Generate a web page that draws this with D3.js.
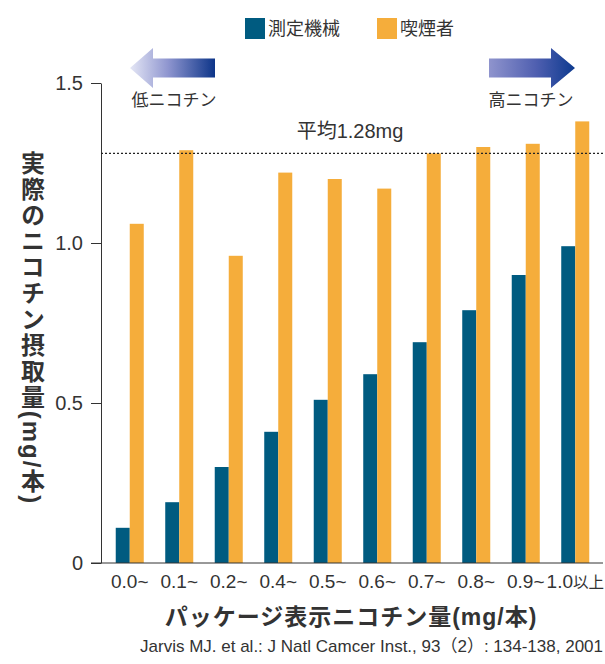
<!DOCTYPE html>
<html lang="ja">
<head>
<meta charset="utf-8">
<script src="https://cdn.jsdelivr.net/npm/d3@7"></script>
<style>
  html, body { margin: 0; padding: 0; background: #fff; }
  svg { display: block; }
  text { font-family: "Liberation Sans", Arial, "Noto Sans CJK JP", sans-serif; fill: #333; }
</style>
</head>
<body>
<svg id="chart" width="605" height="664"></svg>
<script>
// Nicotine labelled on the pack vs. nicotine actually taken in (mg per cigarette)
const categories = ["0.0~", "0.1~", "0.2~", "0.4~", "0.5~", "0.6~", "0.7~", "0.8~", "0.9~", "1.0以上"];
const series = ["測定機械", "喫煙者"];
const machineValues = [0.11, 0.19, 0.30, 0.41, 0.51, 0.59, 0.69, 0.79, 0.90, 0.99];
const smokerValues  = [1.06, 1.29, 0.96, 1.22, 1.20, 1.17, 1.28, 1.30, 1.31, 1.38];
const yTicks = [0, 0.5, 1.0, 1.5];
const averageValue = 1.28;
const averageLabel = "平均1.28mg";
const lowLabel = "低ニコチン";
const highLabel = "高ニコチン";
const yTitle = "実際のニコチン摂取量(mg/本)";
const xTitle = "パッケージ表示ニコチン量(mg/本)";
const source = "Jarvis MJ. et al.: J Natl Camcer Inst., 93（2）: 134-138, 2001";

const colors = { "測定機械": "#005b80", "喫煙者": "#f5ad3b" };
const ink = "#333";

const svg = d3.select("#chart");

const plot = { left: 101, right: 603, top: 83, bottom: 563 };

const y = d3.scaleLinear().domain([0, 1.5]).range([plot.bottom, plot.top]);
const x0 = d3.scaleBand().domain(categories).range([105, 600]).paddingInner(0.434).paddingOuter(0.217);
const x1 = d3.scaleBand().domain(series).range([0, x0.bandwidth()]);

const rows = categories.map((c, i) => ({ cat: c, values: [
  { key: series[0], value: machineValues[i] },
  { key: series[1], value: smokerValues[i] }
]}));

// bars
const groups = svg.append("g").selectAll("g").data(rows).join("g")
  .attr("transform", d => `translate(${x0(d.cat)},0)`);
groups.selectAll("rect").data(d => d.values).join("rect")
  .attr("x", d => x1(d.key))
  .attr("width", x1.bandwidth())
  .attr("y", d => y(d.value))
  .attr("height", d => y(0) - y(d.value))
  .attr("fill", d => colors[d.key]);

// y axis
const yAxis = svg.append("g").attr("transform", `translate(${plot.left},0)`)
  .call(d3.axisLeft(y).tickValues(yTicks).tickSize(10).tickSizeOuter(0).tickPadding(8)
    .tickFormat(d => d === 0 ? "0" : d3.format(".1f")(d)));
yAxis.selectAll("path, line").attr("stroke", ink);
yAxis.selectAll("text").attr("font-size", 20).attr("fill", "#3a3a3a")
  .style("font-family", "'Liberation Sans', Arial, sans-serif");

// x axis baseline
svg.append("line")
  .attr("x1", plot.left - 10).attr("x2", plot.right)
  .attr("y1", y(0)).attr("y2", y(0))
  .attr("stroke", ink);

const xAxis = svg.append("g").attr("transform", `translate(0,${y(0)})`)
  .call(d3.axisBottom(x0).tickSize(0).tickPadding(12));
xAxis.select(".domain").remove();
xAxis.selectAll("text").attr("font-size", 19).attr("fill", "#3a3a3a");
// the last category label: smaller kanji, kept inside the right edge
const lastCat = categories[categories.length - 1];
const lastText = xAxis.selectAll(".tick").filter(d => d === lastCat).select("text");
const m = lastCat.match(/^([0-9.]+)(.*)$/);
lastText.text(null)
  .attr("text-anchor", "end")
  .attr("x", 604 - (x0(lastCat) + x0.bandwidth() / 2));
lastText.append("tspan").text(m[1]);
lastText.append("tspan").attr("font-size", 15.5).text(m[2]);

// average line
svg.append("line")
  .attr("x1", plot.left).attr("x2", plot.right)
  .attr("y1", y(averageValue)).attr("y2", y(averageValue))
  .attr("stroke", "#222").attr("stroke-width", 1.1).attr("stroke-dasharray", "2,2");
svg.append("text")
  .attr("x", 350).attr("y", y(averageValue) - 15)
  .attr("text-anchor", "middle").attr("font-size", 20).attr("fill", "#333")
  .text(averageLabel);

// direction arrows
const defs = svg.append("defs");
function grad(id, stops) {
  const g = defs.append("linearGradient").attr("id", id)
    .attr("x1", "0%").attr("x2", "100%").attr("y1", "0%").attr("y2", "0%");
  stops.forEach(([o, c]) => g.append("stop").attr("offset", o).attr("stop-color", c));
}
grad("gLeft", [["0%", "#e4e6f5"], ["45%", "#8e95cf"], ["100%", "#0d3589"]]);
grad("gRight", [["0%", "#8f94cd"], ["55%", "#4f5fb0"], ["100%", "#0d3a8f"]]);

const arrowY = 68, headHalf = 20, shaftHalf = 9.5;
function arrow(tail, tip, headLen, fillId) {
  const dir = Math.sign(tip - tail);
  const base = tip - dir * headLen;
  const pts = [
    [tail, arrowY - shaftHalf], [base, arrowY - shaftHalf], [base, arrowY - headHalf],
    [tip, arrowY], [base, arrowY + headHalf], [base, arrowY + shaftHalf], [tail, arrowY + shaftHalf]
  ];
  svg.append("path").attr("d", d3.line()(pts) + "Z").attr("fill", `url(#${fillId})`);
}
arrow(215, 130, 23, "gLeft");
arrow(489, 575, 24, "gRight");

svg.append("text").attr("x", 174).attr("y", 106).attr("text-anchor", "middle")
  .attr("font-size", 17).text(lowLabel);
svg.append("text").attr("x", 531).attr("y", 106).attr("text-anchor", "middle")
  .attr("font-size", 17).text(highLabel);

// legend
const legend = svg.append("g");
const legendItems = [{ key: series[0], x: 245 }, { key: series[1], x: 377 }];
legendItems.forEach(it => {
  legend.append("rect").attr("x", it.x).attr("y", 18).attr("width", 20).attr("height", 21)
    .attr("fill", colors[it.key]);
  legend.append("text").attr("x", it.x + 23).attr("y", 35).attr("font-size", 18)
    .attr("fill", "#3a3a3a").text(it.key);
});

// axis titles
svg.append("text")
  .attr("x", 31).attr("y", 328)
  .attr("text-anchor", "middle")
  .style("writing-mode", "vertical-rl")
  .style("letter-spacing", "2px")
  .attr("font-size", 24).attr("font-weight", "bold").attr("fill", "#222")
  .text(yTitle);

svg.append("text")
  .attr("x", 351).attr("y", 625).attr("text-anchor", "middle")
  .attr("font-size", 23).attr("font-weight", "bold").attr("fill", "#222")
  .style("letter-spacing", "1px")
  .text(xTitle);

// source
svg.append("text")
  .attr("x", 603).attr("y", 652).attr("text-anchor", "end")
  .attr("font-size", 17).attr("fill", "#444")
  .text(source);
</script>
</body>
</html>
